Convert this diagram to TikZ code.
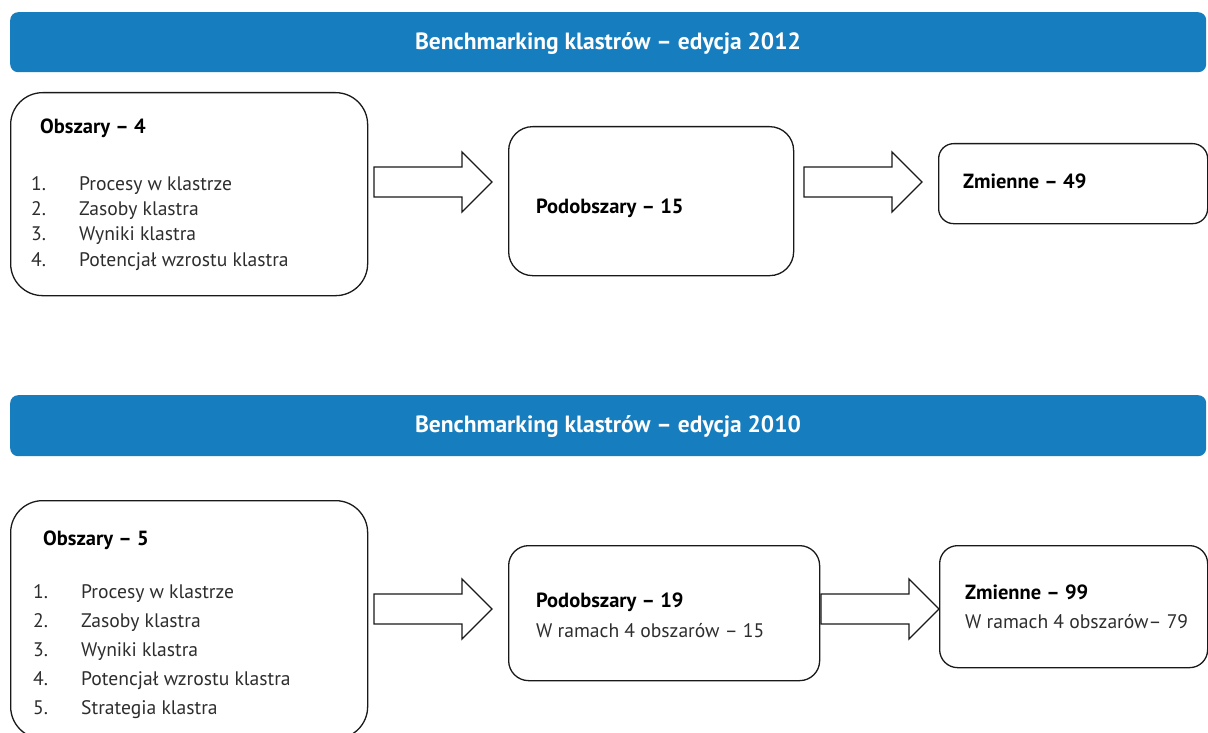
\documentclass[tikz,border=0pt]{standalone}
\usepackage{fontspec}
\setmainfont{PT Sans}
\definecolor{hdrblue}{RGB}{22,125,190}
\definecolor{bodygray}{RGB}{45,45,45}
\begin{document}
\begin{tikzpicture}[x=1pt,y=-1pt,
  hdr/.style={fill=hdrblue, draw=none, rounded corners=8pt, inner sep=0pt, anchor=north west},
  hdrtext/.style={text=white, font=\fontsize{23.5}{26}\selectfont\bfseries, anchor=base, inner sep=0pt},
  box/.style={draw=black!90, line width=1.3pt, rounded corners=#1, inner sep=0pt, anchor=north west},
  lbl/.style={font=\fontsize{20.5}{24}\selectfont\bfseries, anchor=base west, inner sep=0pt},
  txt/.style={font=\fontsize{19.6}{23}\selectfont, text=bodygray, anchor=base west, inner sep=0pt},
  blockarrow/.pic={\draw[draw=black!90, line width=1.3pt, line join=miter, fill=white]
     (0,-15) -- (88,-15) -- (88,-30) -- (118,0) -- (88,30) -- (88,15) -- (0,15) -- cycle;}
]
\useasboundingbox (0,0) rectangle (1208,733);
\clip (0,0) rectangle (1208,733);

% ---------- 2012 ----------
\node[hdr, minimum width=1196pt, minimum height=60pt] (h1) at (10,12) {};
\node[hdrtext] (h1t) at (608,50) {Benchmarking klastrów – edycja 2012};

\node[box=32pt, minimum width=357pt, minimum height=203pt] (b1) at (10,92) {};
\node[lbl] (b1t) at (40,134) {Obszary – 4};
\node[txt] (b1n1) at (31,190) {1.};
\node[txt] (b1i1) at (79,190) {Procesy w klastrze};
\node[txt] (b1n2) at (31,215) {2.};
\node[txt] (b1i2) at (79,215) {Zasoby klastra};
\node[txt] (b1n3) at (31,240) {3.};
\node[txt] (b1i3) at (79,240) {Wyniki klastra};
\node[txt] (b1n4) at (31,266) {4.};
\node[txt] (b1i4) at (79,266) {Potencjał wzrostu klastra};

\pic at (374,182) {blockarrow};

\node[box=24pt, minimum width=285pt, minimum height=149pt] (b2) at (508,126) {};
\node[lbl] (b2t) at (536,214) {Podobszary – 15};

\pic at (804,182) {blockarrow};

\node[box=15pt, minimum width=269pt, minimum height=80pt] (b3) at (938,143) {};
\node[lbl] (b3t) at (963,189) {Zmienne – 49};

% ---------- 2010 ----------
\node[hdr, minimum width=1196pt, minimum height=61pt] (h2) at (10,395) {};
\node[hdrtext] (h2t) at (608,432) {Benchmarking klastrów – edycja 2010};

\node[box=32pt, minimum width=357pt, minimum height=238pt] (b4) at (10,500) {};
\node[lbl] (b4t) at (43,545) {Obszary – 5};
\node[txt] (b4n1) at (33,598) {1.};
\node[txt] (b4i1) at (81,598) {Procesy w klastrze};
\node[txt] (b4n2) at (33,627) {2.};
\node[txt] (b4i2) at (81,627) {Zasoby klastra};
\node[txt] (b4n3) at (33,656) {3.};
\node[txt] (b4i3) at (81,656) {Wyniki klastra};
\node[txt] (b4n4) at (33,685) {4.};
\node[txt] (b4i4) at (81,685) {Potencjał wzrostu klastra};
\node[txt] (b4n5) at (33,714) {5.};
\node[txt] (b4i5) at (81,714) {Strategia klastra};

\pic at (374,609) {blockarrow};

\node[box=20pt, minimum width=311pt, minimum height=135pt] (b5) at (508,545) {};
\node[lbl] (b5t) at (536,607) {Podobszary – 19};
\node[txt] (b5s) at (536,637) {W ramach 4 obszarów – 15};

\pic at (821,609) {blockarrow};

\node[box=18pt, minimum width=268pt, minimum height=122pt] (b6) at (939,545) {};
\node[lbl] (b6t) at (965,599) {Zmienne – 99};
\node[txt] (b6s) at (965,628) {W ramach 4 obszarów– 79};
\end{tikzpicture}
\end{document}
